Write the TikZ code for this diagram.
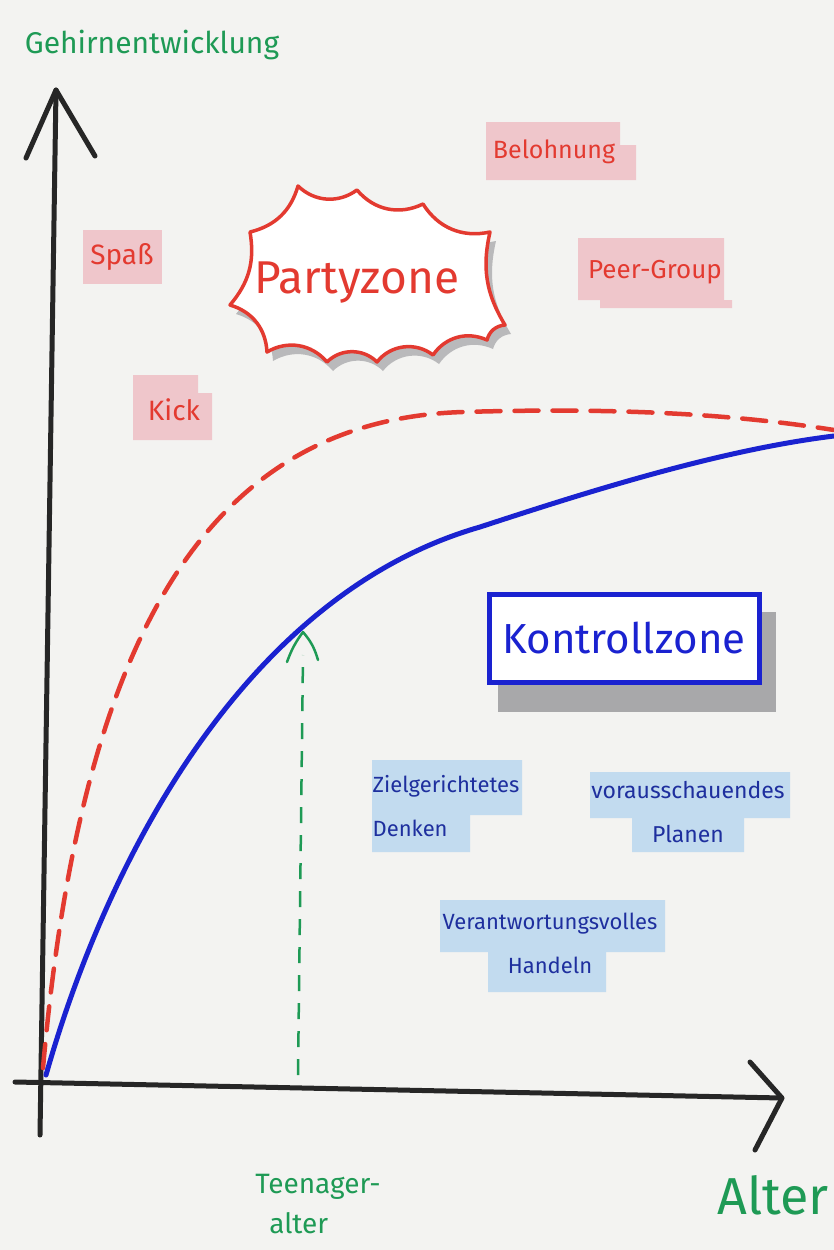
\documentclass[tikz,border=0pt]{standalone}
\usepackage{fontspec}
\setmainfont{Fira Sans}
\definecolor{paper}{HTML}{F3F3F1}
\definecolor{mgreen}{HTML}{1E9A55}
\definecolor{mred}{HTML}{E33A30}
\definecolor{mblue}{HTML}{1A22D0}
\definecolor{tblue}{HTML}{1E2F9E}
\definecolor{pinkhl}{HTML}{EFC6CB}
\definecolor{bluehl}{HTML}{C2DBEF}
\definecolor{shadow}{HTML}{A8A8AA}
\tikzset{
  axisline/.style={line width=5pt, draw=black!85, line cap=round, line join=round},
  greentext/.style={text=mgreen, font=\fontsize{#1}{#1}\selectfont, inner sep=0pt},
  pinklabel/.style={text=mred, font=\fontsize{#1}{#1}\selectfont, inner sep=0pt},
  bluelabel/.style={text=tblue, font=\fontsize{#1}{44}\selectfont, inner sep=0pt},
}
\begin{document}
\begin{tikzpicture}[x=1pt,y=-1pt]
\fill[paper] (0,0) rectangle (834,1250);
\useasboundingbox (0,0) rectangle (834,1250);

% axes
\coordinate (yb) at (40,1135);
\coordinate (yt) at (56,90);
\coordinate (xl) at (15,1082);
\coordinate (xr) at (782,1098);
\draw[axisline] (yb) -- (yt);
\draw[axisline] (26,158) -- (yt) -- (95,156);
\draw[axisline] (xl) -- (xr);
\draw[axisline] (750,1062) -- (xr) -- (755,1150);

% curves
\coordinate (r0) at (43,1068);
\coordinate (r1) at (463,412);
\coordinate (r2) at (834,430);
\draw[mred, line width=4.5pt, dash pattern=on 24pt off 14pt, line cap=round]
  (r0) .. controls (80,650) and (200,420) .. (r1) .. controls (600,408) and (720,412) .. (r2);
\coordinate (b0) at (46,1075);
\coordinate (b1) at (480,527);
\coordinate (b2) at (834,436);
\draw[mblue, line width=5pt, line cap=round]
  (b0) .. controls (110,850) and (250,593) .. (b1) .. controls (590,491) and (720,450) .. (b2);

% teenager marker
\coordinate (tf) at (298,1075);
\coordinate (tt) at (303,632);
\draw[mgreen, line width=2.5pt, dash pattern=on 16pt off 12pt] (tf) -- (303,655);
\draw[mgreen, line width=2.5pt, line cap=round, line join=round] (287,662) to[bend left=8] (tt) to[bend left=12] (318,660);

% labels
\node[greentext=30] (gehirn) at (152,45) {Gehirnentwicklung};
\node[greentext=28, align=left, font=\fontsize{28}{40}\selectfont] (teen) at (318,1204) {Teenager-\\\hspace*{14pt}alter};
\node[greentext=52] (alter) at (773,1195) {Alter};

% pink highlights
\fill[pinkhl] (83,230) rectangle (162,284);
\fill[pinkhl] (133,375) rectangle (198,440) (198,393) rectangle (212,440);
\fill[pinkhl] (486,122) rectangle (620,180) (620,145) rectangle (636,180);
\fill[pinkhl] (578,238) rectangle (724,300) (600,300) rectangle (732,308);
\node[pinklabel=28] (spass) at (122,257) {Spaß};
\node[pinklabel=28] (kick) at (174,410) {Kick};
\node[pinklabel=25] (belohnung) at (554,152) {Belohnung};
\node[pinklabel=26] (peer) at (655,272) {Peer-Group};

% Partyzone burst
\def\burst{(230,305) to[bend right=25] (250,232) to[bend right=30] (298,186) to[bend right=40] (357,190) to[bend right=38] (423,204) to[bend right=35] (490,232) to[bend right=22] (505,325) to[bend right=35] (487,340) to[bend right=40] (433,355) to[bend right=45] (377,362) to[bend right=45] (327,362) to[bend right=40] (267,352) to[bend right=35] cycle}
\begin{scope}[shift={(6,9)}]
\fill[shadow!80] \burst;
\end{scope}
\draw[mred, line width=3.5pt, fill=white, line join=round] \burst;
\node[text=mred, font=\fontsize{46}{46}\selectfont] (party) at (357,283) {Partyzone};

% Kontrollzone
\fill[shadow] (498,612) rectangle (776,712);
\node[draw=mblue, line width=5pt, fill=white, text=mblue, minimum width=270pt, minimum height=88pt, font=\fontsize{42}{42}\selectfont] (kontroll) at (624,638) {Kontrollzone};

% blue highlights
\fill[bluehl] (372,760) rectangle (522,815) (372,815) rectangle (470,852);
\fill[bluehl] (590,772) rectangle (790,818) (632,818) rectangle (744,852);
\fill[bluehl] (440,900) rectangle (665,952) (488,952) rectangle (606,992);
\node[bluelabel=22, align=left] (ziel) at (446,806) {Zielgerichtetes\\Denken};
\node[bluelabel=23, align=center] (voraus) at (688,812) {vorausschauendes\\Planen};
\node[bluelabel=22, align=center] (verant) at (550,943) {Verantwortungsvolles\\Handeln};
\end{tikzpicture}
\end{document}
